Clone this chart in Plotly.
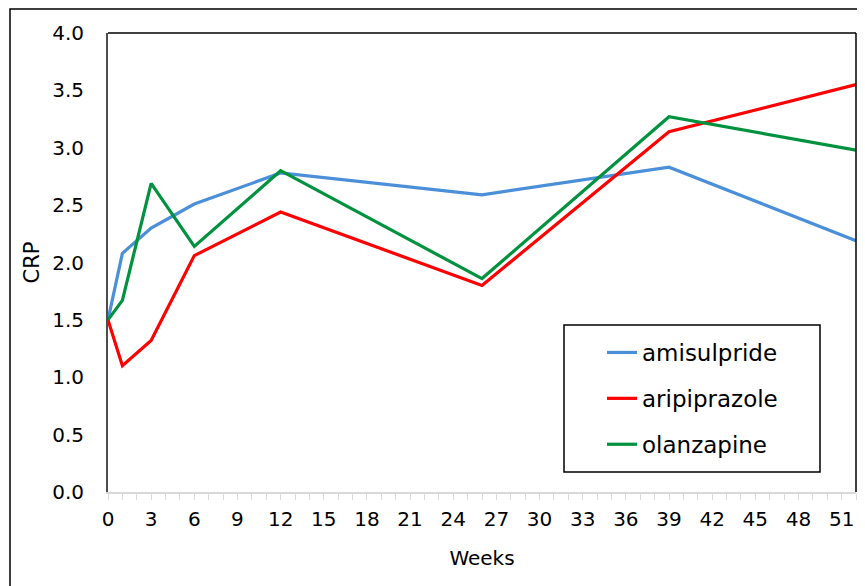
import plotly.graph_objects as go

weeks = [0, 1, 3, 6, 12, 26, 39, 52]
amisulpride = [1.50, 2.08, 2.30, 2.51, 2.78, 2.59, 2.83, 2.19]
aripiprazole = [1.50, 1.10, 1.32, 2.06, 2.44, 1.80, 3.14, 3.55]
olanzapine = [1.50, 1.67, 2.69, 2.14, 2.80, 1.86, 3.27, 2.98]

series = [
    ("amisulpride", amisulpride, "#4A8FD8"),
    ("aripiprazole", aripiprazole, "#FF0000"),
    ("olanzapine", olanzapine, "#00923F"),
]

x_ticks = list(range(0, 52, 3))
y_ticks = [i * 0.5 for i in range(9)]

FONT = "DejaVu Sans"

# The page body adds an 8px offset; compensate so the plot lands at the reference pixels.
OFF = 8
W, H = 865 - OFF, 586 - OFF
L, T = 108 - OFF, 33 - OFF
PW, PH = 748, 459
R = W - L - PW
B = H - T - PH


def px(x):
    return (x - 108) / PW


def py(y):
    return (492 - y) / PH


fig = go.Figure()
for i, (name, vals, col) in enumerate(series):
    fig.add_trace(go.Scatter(
        x=weeks, y=vals, mode="lines", name=name,
        line=dict(color=col, width=3.2),
        legendgroup=f"g{i}",
    ))

fig.update_layout(
    width=W, height=H,
    margin=dict(l=L, r=R, t=T, b=B),
    paper_bgcolor="white", plot_bgcolor="white",
    font=dict(family=FONT, color="#000000", size=20),
    showlegend=True,
    legend=dict(
        x=px(602), y=py(331), xanchor="left", yanchor="top",
        bgcolor="rgba(0,0,0,0)", borderwidth=0,
        font=dict(family=FONT, size=23, color="#000000"),
        tracegroupgap=13, itemwidth=30,
    ),
    xaxis=dict(
        range=[0, 52], tickmode="array", tickvals=x_ticks,
        ticktext=[str(v) for v in x_ticks],
        showgrid=False, zeroline=False,
        showline=True, linecolor="#D9D9D9", linewidth=2,
        ticks="outside", ticklen=6, tickcolor="#D9D9D9", tickwidth=1,
        minor=dict(dtick=1, tick0=0, ticks="outside", ticklen=6,
                   tickcolor="#D9D9D9", tickwidth=1, showgrid=False),
        ticklabelstandoff=2,
        tickfont=dict(family=FONT, size=20, color="#000000"),
        title=dict(text="Weeks", font=dict(family=FONT, size=20, color="#000000"), standoff=21),
    ),
    yaxis=dict(
        range=[0, 4], tickmode="array", tickvals=y_ticks,
        ticktext=[f"{v:.1f}" for v in y_ticks],
        showgrid=False, zeroline=False,
        showline=True, linecolor="#4D4D4D", linewidth=2,
        ticks="", ticklabelstandoff=18,
        tickfont=dict(family=FONT, size=20, color="#000000"),
        title=dict(text="CRP", font=dict(family=FONT, size=21, color="#000000"), standoff=7),
    ),
    shapes=[
        # plot area top and right borders
        dict(type="line", xref="paper", yref="paper", x0=0, x1=1, y0=1, y1=1,
             line=dict(color="#000000", width=1.5)),
        dict(type="line", xref="paper", yref="paper", x0=1, x1=1, y0=0, y1=1,
             line=dict(color="#000000", width=1.5)),
        # legend box
        dict(type="rect", xref="paper", yref="paper",
             x0=px(564), x1=px(820), y0=py(472), y1=py(325),
             line=dict(color="#000000", width=1.5), fillcolor="rgba(0,0,0,0)"),
        # outer frame
        dict(type="rect", xref="paper", yref="paper",
             x0=px(10), x1=px(880), y0=py(600), y1=py(9),
             line=dict(color="#000000", width=1.5), fillcolor="rgba(0,0,0,0)"),
    ],
)

fig.write_html("out.html")
